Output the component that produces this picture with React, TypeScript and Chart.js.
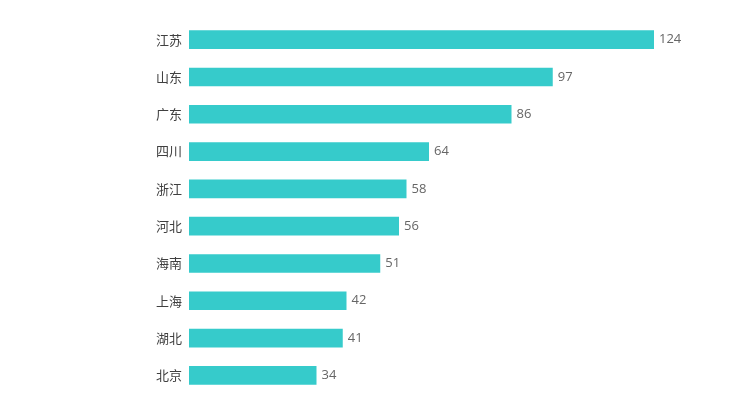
import React, { useEffect, useRef } from "react";
import { Chart, registerables } from "chart.js";

Chart.register(...registerables);

const categories = ["江苏", "山东", "广东", "四川", "浙江", "河北", "海南", "上海", "湖北", "北京"];
const values = [124, 97, 86, 64, 58, 56, 51, 42, 41, 34];
const axisMax = 124;

const valueLabels = {
  id: "valueLabels",
  afterDatasetsDraw(chart: any) {
    const ctx = chart.ctx;
    const meta = chart.getDatasetMeta(0);
    ctx.save();
    ctx.font = '13px "Open Sans", "Noto Sans", sans-serif';
    ctx.fillStyle = "#666666";
    ctx.textAlign = "left";
    ctx.textBaseline = "middle";
    meta.data.forEach((bar: any, i: number) => {
      ctx.fillText(String(chart.data.datasets[0].data[i]), bar.x + 5, bar.y);
    });
    ctx.restore();
  },
};

export default function App() {
  const ref = useRef<HTMLCanvasElement>(null);
  useEffect(() => {
    if (!ref.current) return;
    const chart = new Chart(ref.current, {
      type: "bar",
      data: {
        labels: categories,
        datasets: [
          {
            data: values,
            backgroundColor: "#36cbcb",
            barPercentage: 0.5,
            categoryPercentage: 1,
          },
        ],
      },
      options: {
        indexAxis: "y",
        animation: false,
        responsive: false,
        layout: { padding: { top: 21, bottom: 4, right: 80, left: 0 } },
        plugins: { legend: { display: false }, tooltip: { enabled: false } },
        scales: {
          x: { display: false, min: 0, max: axisMax },
          y: {
            grid: { display: false, drawTicks: false },
            border: { display: false },
            ticks: {
              padding: 7,
              color: "#404040",
              font: { family: '"Noto Sans CJK SC", "Noto Sans", sans-serif', size: 13 },
            },
            afterFit(scale: any) {
              scale.width = 189;
              scale.paddingTop = 0;
              scale.paddingBottom = 0;
            },
          },
        },
      },
      plugins: [valueLabels],
    });
    return () => chart.destroy();
  }, []);
  return (
    <div style={{ position: "absolute", left: 0, top: 0, width: 734, height: 398 }}>
      <canvas ref={ref} width={734} height={398} style={{ width: 734, height: 398 }} />
    </div>
  );
}
